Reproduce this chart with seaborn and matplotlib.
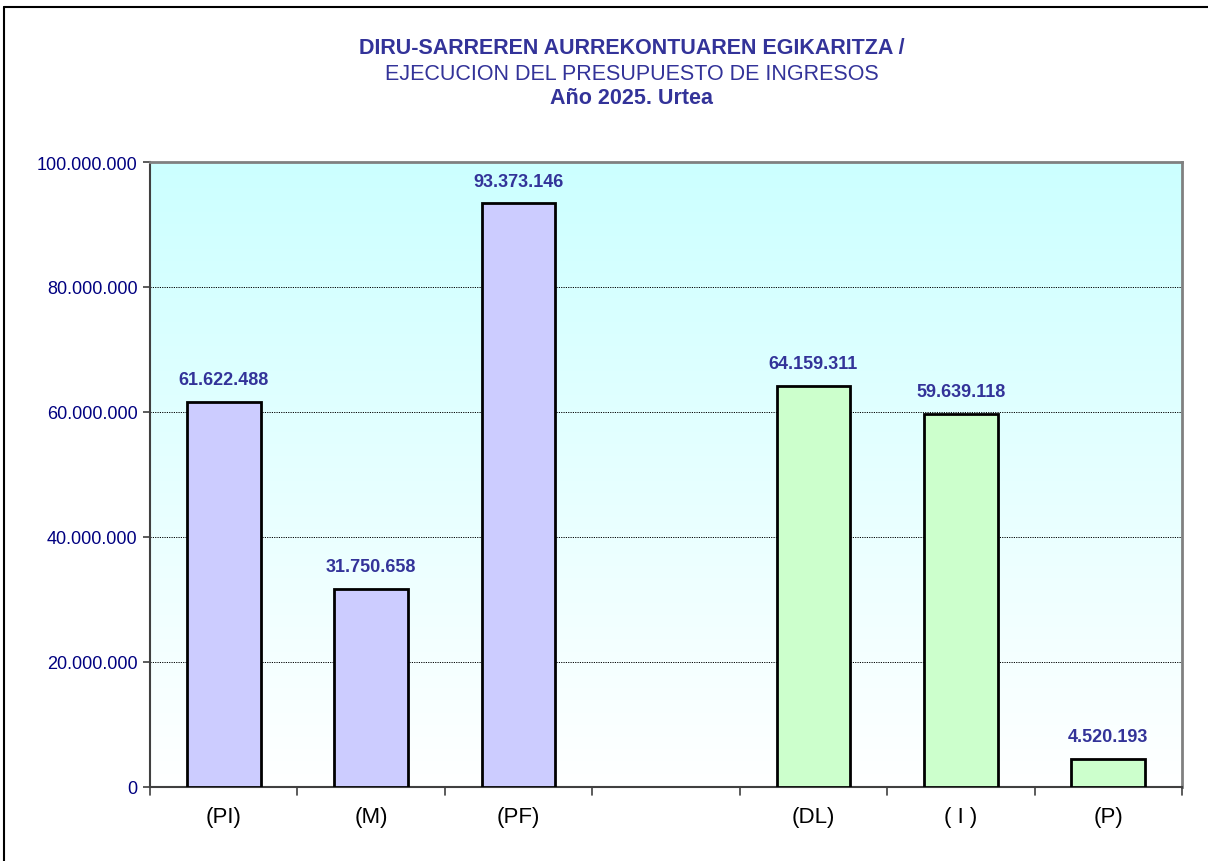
import numpy as np
import pandas as pd
import matplotlib
matplotlib.use("Agg")
import matplotlib.pyplot as plt
import seaborn as sns
from matplotlib.colors import LinearSegmentedColormap
from matplotlib.lines import Line2D

categories = ["(PI)", "(M)", "(PF)", "(DL)", "( I )", "(P)"]
values = [61622488, 31750658, 93373146, 64159311, 59639118, 4520193]
slot_order = ["(PI)", "(M)", "(PF)", " ", "(DL)", "( I )", "(P)"]
bar_colors = ["#CCCCFF", "#CCCCFF", "#CCCCFF", "#CCFFCC", "#CCFFCC", "#CCFFCC"]
yticks = [0, 20000000, 40000000, 60000000, 80000000, 100000000]
title_lines = ["DIRU-SARREREN AURREKONTUAREN EGIKARITZA /",
               "EJECUCION DEL PRESUPUESTO DE INGRESOS",
               "Año 2025. Urtea"]

def fmt(v):
    return f"{int(v):,}".replace(",", ".")

sns.set_style("white")
plt.rcParams['font.family'] = ['Liberation Sans', 'DejaVu Sans']

W, H = 1208, 862
fig = plt.figure(figsize=(W/100, H/100), dpi=100)
ax = fig.add_axes([150/W, 1-788/H, (1182-150)/W, (788-163)/H])

df = pd.DataFrame({"cat": categories, "val": values})
sns.barplot(data=df, x="cat", y="val", order=slot_order, hue="cat",
            palette=dict(zip(categories, bar_colors)), legend=False, saturation=1,
            width=0.5, edgecolor="black", linewidth=2, ax=ax, zorder=3)

ax.set_ylim(0, 100000000)
ax.set_xlim(-0.5, 6.5)

# gradient background
cmap = LinearSegmentedColormap.from_list("bg", ["#FFFFFF", "#CCFFFF"])
grad = np.linspace(0, 1, 256).reshape(-1, 1)
ax.imshow(grad, aspect="auto", cmap=cmap, origin="lower",
          extent=[-0.5, 6.5, 0, 100000000], zorder=0)

for t in yticks[1:-1]:
    ax.axhline(t, color="black", lw=0.7, ls=(0, (1.2, 1.2)), zorder=1)

ax.set_yticks(yticks)
ax.set_yticklabels([fmt(t) for t in yticks], color="#000080", fontsize=13)
ax.set_xticks(range(len(slot_order)))
ax.set_xticklabels([c if c.strip() else "" for c in slot_order], fontsize=16, color="black")
ax.tick_params(axis="x", length=0, pad=14)
ax.tick_params(axis="y", length=5, width=1.2, color="#404040", left=True, pad=4)
ax.set_xlabel("")
ax.set_ylabel("")

# ticks between slots on x axis
for b in np.arange(-0.5, 7.0, 1.0):
    ax.plot([b, b], [0, -0.013], transform=ax.get_xaxis_transform(),
            color="#404040", lw=1.2, clip_on=False, zorder=5)

for side in ["left", "bottom"]:
    ax.spines[side].set_color("#404040")
    ax.spines[side].set_linewidth(1.5)
for side in ["top", "right"]:
    ax.spines[side].set_visible(True)
    ax.spines[side].set_color("#808080")
    ax.spines[side].set_linewidth(2)

for cont in ax.containers:
    ax.bar_label(cont, labels=[fmt(v) for v in cont.datavalues], padding=10,
                 color="#333399", fontsize=13, fontweight="bold")

fig.text(632/W, 1-48.5/H, title_lines[0], ha="center", va="center",
         fontsize=15.5, fontweight="bold", color="#333399")
fig.text(632/W, 1-74/H, title_lines[1], ha="center", va="center",
         fontsize=15.5, color="#333399")
fig.text(632/W, 1-98.5/H, title_lines[2], ha="center", va="center",
         fontsize=15.5, fontweight="bold", color="#333399")

# outer chart border (top and left visible)
fig.add_artist(Line2D([4/W, 4/W], [0, 1-8/H], transform=fig.transFigure, color="black", lw=1.5))
fig.add_artist(Line2D([4/W, 1], [1-8/H, 1-8/H], transform=fig.transFigure, color="black", lw=1.5))

fig.savefig("out.png", dpi=100)
